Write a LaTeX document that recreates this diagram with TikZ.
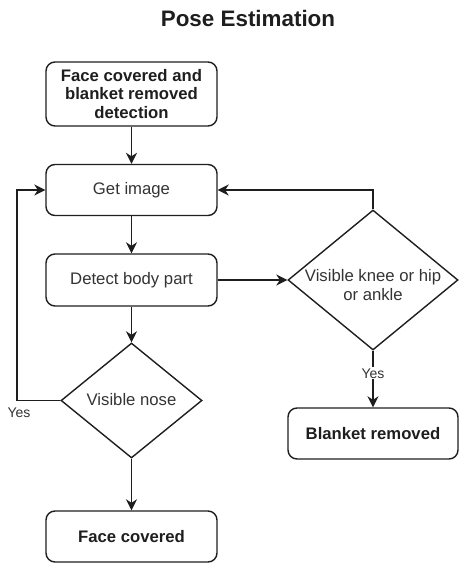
\documentclass[tikz,border=0pt]{standalone}
\usepackage{fontspec}
\setmainfont{Liberation Sans}
\usetikzlibrary{shapes.geometric,arrows.meta}
\definecolor{ink}{HTML}{1E1E1E}
\definecolor{txt}{HTML}{333333}
\tikzset{
  box/.style={draw=ink, line width=1.4pt, rounded corners=9pt, minimum width=171pt, inner sep=0pt, align=center, text=txt, font=\fontsize{16.7}{18.5}\selectfont},
  bbox/.style={box, text=ink, font=\fontsize{16.7}{18.5}\selectfont\bfseries},
  dia/.style={draw=ink, line width=1.4pt, shape=diamond, inner sep=0pt},
  dtext/.style={align=center, text=txt, font=\fontsize{16.7}{19}\selectfont},
  lab/.style={text=txt, font=\fontsize{14}{16}\selectfont, inner sep=1pt},
  arr/.style={draw=ink, line width=1.4pt, -{Stealth[length=11pt,width=11pt,inset=3.5pt]}},
}
\begin{document}
\begin{tikzpicture}[x=1pt,y=-1pt]
\useasboundingbox (0,0) rectangle (469,571);
\node[text=ink, font=\fontsize{22.4}{26}\selectfont\bfseries] (title) at (248,18) {Pose Estimation};
\node[bbox, minimum height=64pt] (start) at (131.5,94) {Face covered and\\blanket removed\\detection};
\node[box, minimum height=51pt] (get) at (131.5,190) {Get image};
\node[box, minimum height=52pt] (detect) at (131.5,280) {Detect body part};
\node[dia, minimum width=170pt, minimum height=140pt] (knee) at (373,280) {};
\node[dtext] (kneet) at (373,285) {Visible knee or hip\\or ankle};
\node[dia, minimum width=141pt, minimum height=115pt] (nose) at (131.5,400.5) {};
\node[dtext] (noset) at (131.5,400) {Visible nose};
\node[bbox, minimum height=51pt] (face) at (131.5,536.5) {Face covered};
\node[bbox, minimum width=170pt, minimum height=51pt] (blanket) at (373,433.5) {Blanket removed};
\coordinate (lx) at (17,0);
\draw[arr] (start) -- (get);
\draw[arr] (get) -- (detect);
\draw[arr] (detect) -- (nose.north);
\draw[arr] (detect) -- (knee.west);
\draw[arr] (knee.north) |- (get.east);
\draw[arr] (nose.west) -| (lx |- nose.west) |- (get.west);
\draw[arr] (nose.south) -- (face);
\draw[arr] (knee.south) -- node[lab, fill=white, pos=0.4] (yes2) {Yes} (blanket);
\node[lab] (yes1) at (19,413) {Yes};
\end{tikzpicture}
\end{document}
